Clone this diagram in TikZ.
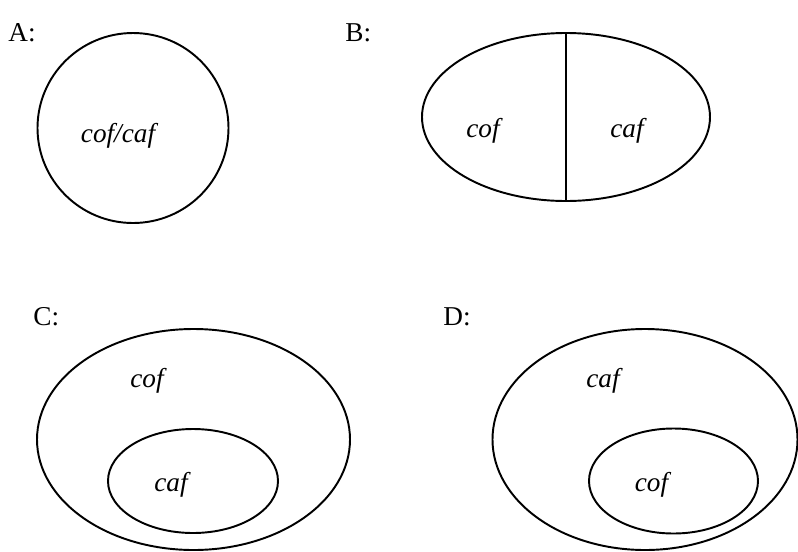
\documentclass[tikz,border=0pt]{standalone}
\usepackage{fontspec}
\setmainfont{Liberation Serif}
\usepackage{tikz}
\usetikzlibrary{positioning,shapes.geometric}

\begin{document}
\begin{tikzpicture}[
      font=\fontsize{15.5}{18}\selectfont,
      set/.style={draw=black, line width=1.1pt, ellipse, inner sep=0pt},
      tag/.style={inner sep=0pt, anchor=base west},
      elem/.style={inner sep=0pt, anchor=base, font=\fontsize{15.5}{18}\selectfont\itshape}
    ]
    \useasboundingbox (0,0) rectangle (15.96,-11.02);

    % A: one set
    \node[tag] (labA) at (0.16,-0.82) {A:};
    \node[set, minimum width=3.82cm, minimum height=3.80cm] (setA) at (2.66,-2.56) {};
    \node[elem] (txtA) at (2.36,-2.84) {cof/caf};

    % B: two halves
    \node[tag] (labB) at (6.90,-0.82) {B:};
    \node[set, minimum width=5.76cm, minimum height=3.36cm] (setB) at (11.32,-2.34) {};
    \draw[line width=1.1pt] (setB.north) -- (setB.south);
    \node[elem] (txtBl) at (9.66,-2.74) {cof};
    \node[elem] (txtBr) at (12.54,-2.74) {caf};

    % C: caf inside cof
    \node[tag] (labC) at (0.66,-6.50) {C:};
    \node[set, minimum width=6.26cm, minimum height=4.42cm] (outC) at (3.87,-8.79) {};
    \node[set, minimum width=3.40cm, minimum height=2.08cm] (inC) at (3.86,-9.62) {};
    \node[elem] (txtCo) at (2.94,-7.74) {cof};
    \node[elem] (txtCi) at (3.42,-9.82) {caf};

    % D: cof inside caf
    \node[tag] (labD) at (8.86,-6.50) {D:};
    \node[set, minimum width=6.10cm, minimum height=4.42cm] (outD) at (12.90,-8.79) {};
    \node[set, minimum width=3.38cm, minimum height=2.10cm] (inD) at (13.47,-9.62) {};
    \node[elem] (txtDo) at (12.06,-7.74) {caf};
    \node[elem] (txtDi) at (13.03,-9.82) {cof};
  \end{tikzpicture}
\end{document}
